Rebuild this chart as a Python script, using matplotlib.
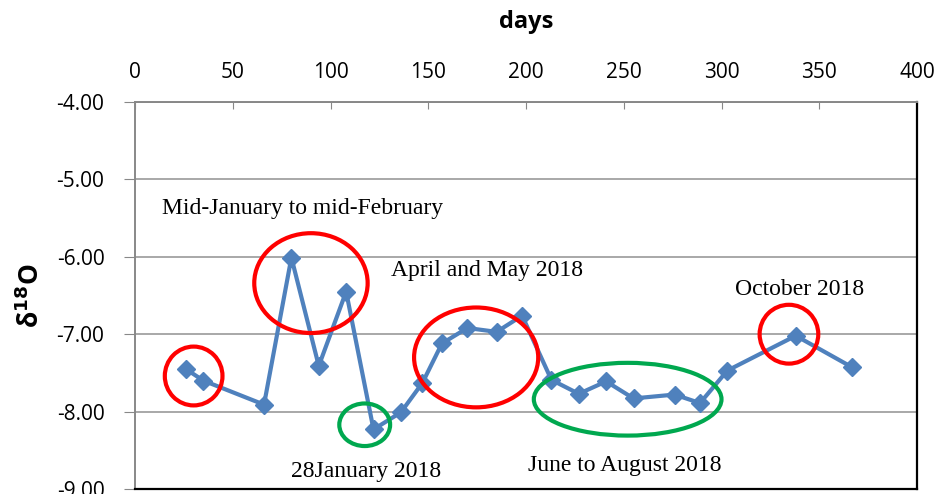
#!/usr/bin/env python
"""delta-18O time series over days, with highlighted periods."""

import matplotlib
matplotlib.use("Agg")
import matplotlib.pyplot as plt
from matplotlib.patches import Ellipse

# ── data ─────────────────────────────────────────────────────────────────────
days = [26, 35, 66, 80, 94, 108, 122, 136, 147, 157, 170, 185, 198,
        213, 227, 241, 255, 276, 289, 303, 338, 367]
d18o = [-7.45, -7.60, -7.91, -6.01, -7.41, -6.45, -8.23, -8.01, -7.63, -7.12,
        -6.92, -6.97, -6.76, -7.59, -7.77, -7.61, -7.83, -7.78, -7.89, -7.47,
        -7.02, -7.43]

x_ticks = [0, 50, 100, 150, 200, 250, 300, 350, 400]
y_ticks = [-9, -8, -7, -6, -5, -4]

# highlighted periods: (centre day, centre value, width days, height units, colour)
ellipses = [
    (30.0, -7.54, 29.5, 0.76, "red"),
    (90.0, -6.34, 58.0, 1.29, "red"),
    (117.5, -8.17, 26.0, 0.55, "#00a84f"),
    (174.5, -7.30, 63.5, 1.29, "red"),
    (252.0, -7.84, 96.0, 0.94, "#00a84f"),
    (334.5, -7.00, 30.0, 0.76, "red"),
]

notes = [
    ("Mid-January to mid-February", 14, -5.37),
    ("April and May 2018", 131, -6.18),
    ("October 2018", 307, -6.42),
    ("28January 2018", 80, -8.77),
    ("June to August 2018", 201, -8.69),
]

BLUE = "#4f81bd"
SANS = ["Open Sans", "DejaVu Sans"]
SERIF = ["Liberation Serif", "DejaVu Serif"]

# ── figure ───────────────────────────────────────────────────────────────────
fig = plt.figure(figsize=(9.36, 4.94), dpi=100)
ax = fig.add_axes([135 / 936, 1 - 489 / 494, (917 - 135) / 936, (489 - 102) / 494])

ax.plot(days, d18o, color=BLUE, lw=3.0, marker="D", ms=9,
        markeredgecolor=BLUE, zorder=3)

for cx, cy, w, h, col in ellipses:
    ax.add_patch(Ellipse((cx, cy), w, h, fill=False, edgecolor=col,
                         lw=3.0, zorder=4))

for txt, x, y in notes:
    ax.text(x, y, txt, family=SERIF, fontsize=17, va="center", ha="left",
            zorder=5)

ax.set_xlim(0, 400)
ax.set_ylim(-9, -4)
ax.set_xticks(x_ticks)
ax.set_yticks(y_ticks)
ax.set_yticklabels([f"{v:.2f}" for v in y_ticks], family=SANS, fontsize=15)
ax.set_xticklabels([str(v) for v in x_ticks], family=SANS, fontsize=15)

ax.xaxis.tick_top()
ax.xaxis.set_label_position("top")
ax.tick_params(axis="x", direction="in", length=5, color="#888888", pad=14)
ax.tick_params(axis="y", direction="out", length=8, color="#888888", pad=14)

ax.grid(axis="y", color="#999999", lw=1.2)
ax.set_axisbelow(True)

for side in ("left", "top"):
    ax.spines[side].set_color("#888888")
    ax.spines[side].set_linewidth(1.4)
for side in ("right", "bottom"):
    ax.spines[side].set_color("black")
    ax.spines[side].set_linewidth(1.6)

ax.set_xlabel("days", family=SANS, fontsize=17, fontweight="bold", labelpad=24)
ax.set_ylabel(r"δ$^{\mathbf{18}}$O", family=SANS, fontsize=19,
              fontweight="bold", labelpad=8)

fig.savefig("out.png", dpi=100)
